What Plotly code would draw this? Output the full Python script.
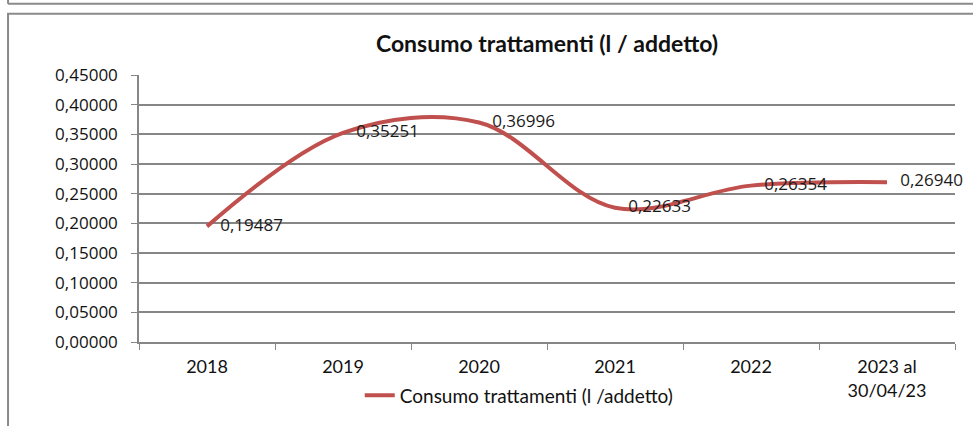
import plotly.graph_objects as go

# data
anni = ["2018", "2019", "2020", "2021", "2022", "2023 al<br>30/04/23"]
consumo = [0.19487, 0.35251, 0.36996, 0.22633, 0.26354, 0.26940]
titolo = "Consumo trattamenti (l / addetto)"
nome_serie = "Consumo trattamenti (l /addetto)"

rosso = "#C0504D"
grigio = "#868686"
font_label = "Open Sans, DejaVu Sans, sans-serif"
font_cal = "Lato, Open Sans, sans-serif"

# labels sit a bit to the right of the point, like Excel's "Right" position
etichette = ["\u00a0\u00a0\u00a0" + f"{v:.5f}".replace(".", ",") for v in consumo]

fig = go.Figure()
fig.add_trace(go.Scatter(
    x=anni,
    y=consumo,
    name=nome_serie,
    mode="lines+text",
    line=dict(color=rosso, width=4, shape="spline", smoothing=1),
    text=etichette,
    textposition="middle right",
    textfont=dict(family=font_label, size=17, color="#1a1a1a"),
    cliponaxis=False,
))

# frame around the chart, plus the bottom edge of the box above
fig.add_shape(type="rect", xref="paper", yref="paper",
              x0=-0.1605, x1=1.05, y0=-0.4, y1=1.2296,
              line=dict(color="#8a8a8a", width=2), layer="below")
fig.add_shape(type="line", xref="paper", yref="paper",
              x0=-0.1605, x1=1.05, y0=1.2667, y1=1.2667,
              line=dict(color="#8a8a8a", width=2))
fig.add_shape(type="line", xref="paper", yref="paper",
              x0=-0.1605, x1=-0.1605, y0=1.2667, y1=1.35,
              line=dict(color="#8a8a8a", width=2))

fig.update_layout(
    width=973,
    height=426,
    margin=dict(l=139, r=18, t=75, b=81),
    paper_bgcolor="white",
    plot_bgcolor="white",
    separators=",.",
    title=dict(text="<b>" + titolo + "</b>", x=0.5, xref="paper", y=0.896, yanchor="middle",
               font=dict(family=font_cal, size=23, color="#111111")),
    showlegend=True,
    legend=dict(orientation="h", x=0.466, xanchor="center", y=-0.2, yanchor="middle",
                font=dict(family=font_cal, size=19, color="#111111"),
                bgcolor="rgba(0,0,0,0)"),
    xaxis=dict(
        type="category",
        range=[-0.5, len(anni) - 0.5],
        tickson="boundaries",
        ticks="outside",
        ticklen=6,
        tickcolor=grigio,
        ticklabelstandoff=8,
        showline=True,
        linecolor=grigio,
        linewidth=1.5,
        showgrid=False,
        tickfont=dict(family=font_cal, size=18, color="#111111"),
    ),
    yaxis=dict(
        range=[0, 0.45],
        dtick=0.05,
        tickformat=".5f",
        ticks="outside",
        ticklen=6,
        tickcolor=grigio,
        ticklabelstandoff=10,
        showline=True,
        linecolor=grigio,
        linewidth=1.5,
        gridcolor=grigio,
        gridwidth=1.5,
        zeroline=False,
        tickfont=dict(family=font_label, size=17, color="#111111"),
    ),
)

fig.write_html("out.html", config={"displayModeBar": False},
               post_script="document.body.style.margin='0';")
